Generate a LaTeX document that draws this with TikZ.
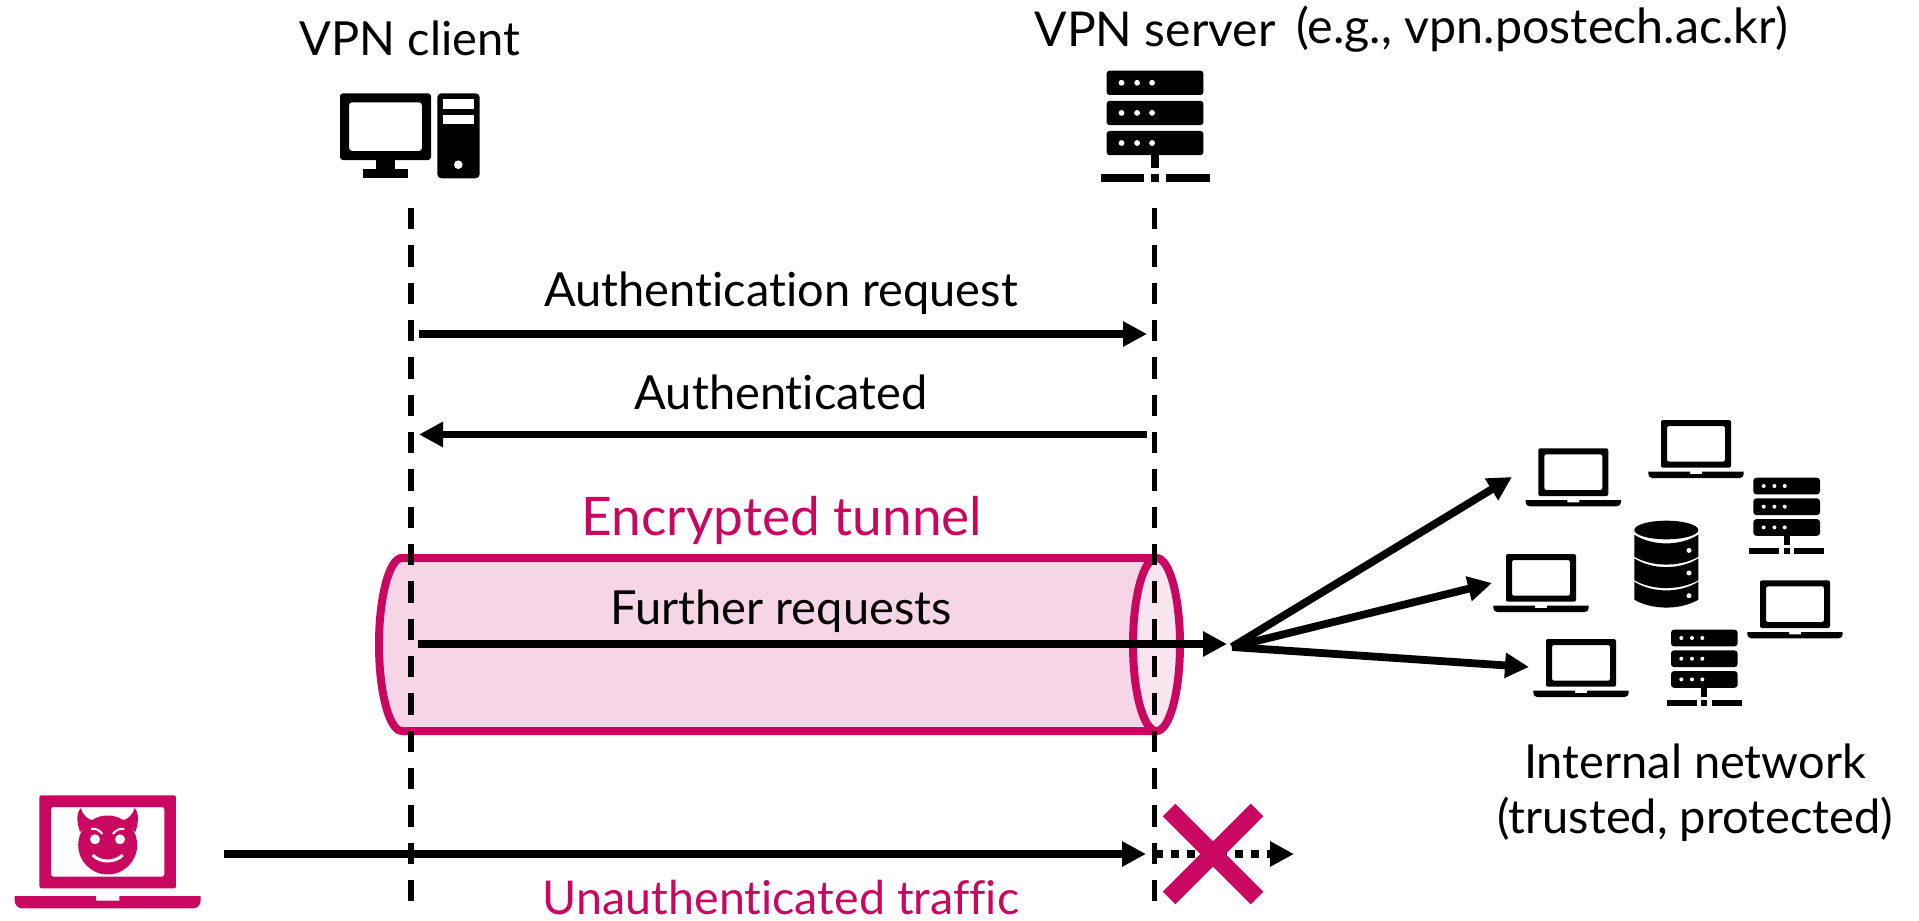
\documentclass[tikz,border=0pt]{standalone}
\usepackage{fontspec}
\setmainfont[Ligatures=NoCommon]{Lato}
\usetikzlibrary{arrows.meta}
\definecolor{tunnelred}{HTML}{C90760}
\definecolor{tunnelfill}{HTML}{F5D5E6}
\definecolor{tunnelend}{HTML}{F8E5EF}
\tikzset{
    lifeline/.style={line width=2.7pt, dash pattern=on 10.67pt off 8pt},
    msg/.style={line width=3.8pt, -{Triangle[length=12pt,width=12pt]}},
    fan/.style={line width=3.9pt, -{Triangle[length=12pt,width=12pt]}},
    lbl/.style={font=\fontsize{23.5}{27}\selectfont, inner sep=0pt, align=center},
    laptop/.pic={
        \fill[even odd rule, rounded corners=1pt] (-35,47.7) -- (-35,0) -- (35,0) -- (35,47.7) -- cycle
            (-29,6) rectangle (29,41.7);
        \fill (-47.7,51.7) -- (-6,51.7) -- (-6,54) -- (6,54) -- (6,51.7) -- (47.7,51.7)
            -- (47.7,54) arc[start angle=0, end angle=90, radius=4] -- (-43.7,58)
            arc[start angle=90, end angle=180, radius=4] -- cycle;
    },
    server/.pic={
        \foreach \r in {0,20.7,41.4} {
            \fill[rounded corners=1.5pt] (-33.3,\r) rectangle (33.3,\r+16.7);
            \foreach \d in {-23,-12.3,-2} {
                \fill[white] (\d,\r+8.3) circle (2);
            }
        }
        \fill (-3,58) rectangle (3,67);
        \fill (-37.3,70.7) rectangle (-7.3,76.7);
        \fill (-3,70.7) rectangle (3,76.7);
        \fill (7.7,70.7) rectangle (37.7,76.7);
    },
    database/.pic={
        \fill (0,9.3) ellipse (32 and 9.3);
        \foreach \t/\b in {14/36,37.7/59.5,61/79} {
            \fill (-32,\t) .. controls (-14,\t+11.6) and (14,\t+11.6) .. (32,\t) -- (32,\b)
                .. controls (14,\b+10.5) and (-14,\b+10.5) .. (-32,\b) -- cycle;
        }
        \foreach \y in {29.7,52.3,75} {
            \fill[white] (22.7,\y) circle (2.5);
        }
    }
}

\begin{document}
\begin{tikzpicture}[x=0.5pt, y=-0.5pt]
    \useasboundingbox (0,0) rectangle (1919,921);

    % anchors
    \coordinate (clienttop) at (411,208);
    \coordinate (clientend) at (411,902);
    \coordinate (servertop) at (1154.5,208);
    \coordinate (serverend) at (1154.5,902);
    \coordinate (authleft) at (419,334);
    \coordinate (authright) at (1147,334);
    \coordinate (okleft) at (419,434.5);
    \coordinate (okright) at (1147,434.5);
    \coordinate (reqleft) at (418,644);
    \coordinate (reqright) at (1227,644);
    \coordinate (hub) at (1232,647);
    \coordinate (hubtop) at (1512,477);
    \coordinate (hubmid) at (1492,583);
    \coordinate (hubbot) at (1529,667);
    \coordinate (badleft) at (224,854);
    \coordinate (badright) at (1146,854);
    \coordinate (blockleft) at (1155,854);
    \coordinate (blockright) at (1294,854);
    \coordinate (crossa) at (1169,810);
    \coordinate (crossb) at (1257,898);
    \coordinate (crossc) at (1169,898);
    \coordinate (crossd) at (1257,810);

    % tunnel
    \draw[tunnelred, fill=tunnelfill, line width=4pt] (1156.5,558) -- (402,558)
        arc[start angle=-90, end angle=-270, x radius=23, y radius=86.5] -- (1156.5,731);
    \draw[tunnelred, fill=tunnelend, line width=4pt] (1156.5,644.5) ellipse (23.5 and 86.5);

    % lines
    \draw[lifeline] (clienttop) -- (clientend);
    \draw[lifeline] (servertop) -- (serverend);
    \draw[msg] (authleft) -- (authright);
    \draw[msg] (okright) -- (okleft);
    \draw[msg] (reqleft) -- (reqright);
    \draw[fan] (hub) -- (hubtop);
    \draw[fan] (hub) -- (hubmid);
    \draw[fan] (hub) -- (hubbot);
    \draw[msg] (badleft) -- (badright);
    \draw[line width=4pt, dash pattern=on 4pt off 4pt, -{Triangle[length=12pt,width=12pt]}] (blockleft) -- (blockright);
    \draw[tunnelred, line width=9pt] (crossa) -- (crossb);
    \draw[tunnelred, line width=9pt] (crossc) -- (crossd);

    % labels
    \node[lbl] (clientlabel) at (410,38) {VPN client};
    \node[lbl, font=\fontsize{24}{28}\selectfont] (serverlabel) at (1155,29) {VPN server};
    \node[lbl, font=\fontsize{24.2}{28}\selectfont] (serverurl) at (1542,29) {(e.g., vpn.postech.ac.kr)};
    \node[lbl] (authlabel) at (781,293) {Authentication request};
    \node[lbl] (oklabel) at (781,392) {Authenticated};
    \node[lbl, tunnelred, font=\fontsize{26.6}{30}\selectfont] (tunnellabel) at (782,520) {Encrypted tunnel};
    \node[lbl] (reqlabel) at (781,611) {Further requests};
    \node[lbl, tunnelred, font=\fontsize{23.3}{27}\selectfont] (badlabel) at (781,898) {Unauthenticated traffic};
    \node[lbl] (netlabel) at (1695,761) {Internal network};
    \node[lbl] (trustlabel) at (1695,819) {(trusted, protected)};

    % client machine
    \fill[even odd rule, rounded corners=1.5pt] (340,93.3) rectangle (431,160) (349,102.3) rectangle (422,151);
    \fill (376.3,160) rectangle (394.7,169.3);
    \fill (362.7,169.3) rectangle (408.3,178.3);
    \fill[rounded corners=2pt] (437.3,93.3) rectangle (479.7,178.3);
    \fill[white] (443.3,99.3) rectangle (473.7,108.7);
    \fill[white] (443.3,114.7) rectangle (473.7,123.7);
    \fill[white] (458.3,164.7) circle (4.3);

    % internal network
    \pic (vpnserver) [scale=1.455] at (1155,70.7) {server};
    \pic (lapa) at (1573.3,448.3) {laptop};
    \pic (lapb) at (1696,420) {laptop};
    \pic (lapc) at (1541,554) {laptop};
    \pic (lapd) at (1795,580.3) {laptop};
    \pic (lape) at (1581,639) {laptop};
    \pic (rackb) at (1704.3,629.7) {server};
    \pic (racka) at (1786.7,477.7) {server};
    \pic (store) at (1666.3,520.7) {database};

    % attacker
    \pic (attacker) [scale=1.95, tunnelred] at (107.7,795.3) {laptop};
    \fill[tunnelred] (107.7,845) circle (29.5);
    \fill[tunnelred] (80,832) .. controls (76,820) and (77,812) .. (80.7,808)
        .. controls (83,815) and (87,819) .. (93,820.5) -- cycle;
    \fill[tunnelred] (135.4,832) .. controls (139.4,820) and (138.4,812) .. (134.7,808)
        .. controls (132.4,815) and (128.4,819) .. (122.4,820.5) -- cycle;
    \fill[white] (95,839.3) circle (5);
    \fill[white] (120,839.3) circle (5);
    \draw[white, line width=1pt] (91,829) .. controls (96,828) and (99,830) .. (102.5,834);
    \draw[white, line width=1pt] (124.4,829) .. controls (119.4,828) and (116.4,830) .. (112.9,834);
    \draw[white, line width=1.5pt] (92.7,855) .. controls (100,863) and (115,863) .. (122.7,855);
\end{tikzpicture}
\end{document}
